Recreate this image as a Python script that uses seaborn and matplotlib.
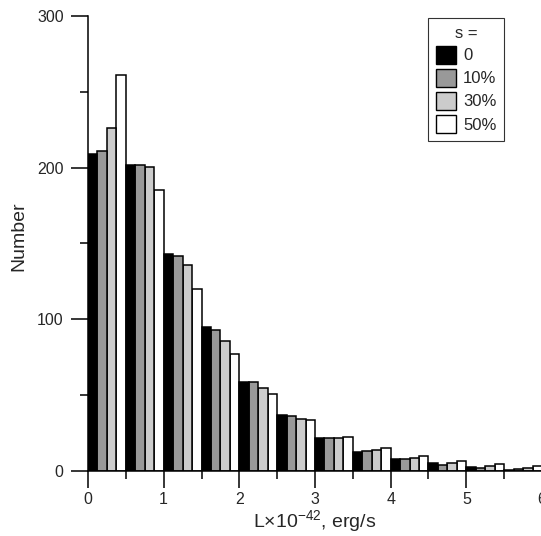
import numpy as np
import pandas as pd
import matplotlib
matplotlib.use("Agg")
import matplotlib.pyplot as plt
import seaborn as sns
from matplotlib.patches import Patch
from matplotlib.ticker import MultipleLocator

# luminosity bins (units of 1e42 erg/s), bin width 0.5
bin_lo = [0.0, 0.5, 1.0, 1.5, 2.0, 2.5, 3.0, 3.5, 4.0, 4.5, 5.0, 5.5]
s_labels = ["0", "10%", "30%", "50%"]

n_s0 = [209, 202, 143, 95, 59, 37, 22, 12.6, 8.1, 5.1, 2.9, 0.9]
n_s10 = [211, 202, 142, 93, 58.5, 36, 22, 13, 7.7, 4.2, 2.2, 1.3]
n_s30 = [226, 200.5, 135.5, 86, 55, 34.5, 22, 14, 8.8, 5.5, 3.3, 2.0]
n_s50 = [261, 185, 120, 77, 50.5, 33.3, 22.4, 15, 10.1, 6.6, 4.9, 3.1]

colors = ["#000000", "#999999", "#cccccc", "#ffffff"]

rows = []
for lab, vals in zip(s_labels, [n_s0, n_s10, n_s30, n_s50]):
    for lo, v in zip(bin_lo, vals):
        rows.append({"L": lo + 0.25, "count": v, "s": lab})
df = pd.DataFrame(rows)

sns.set_style("ticks")
plt.rcParams["font.family"] = ["Liberation Sans", "DejaVu Sans"]
plt.rcParams["mathtext.fontset"] = "custom"
plt.rcParams["mathtext.rm"] = "Liberation Sans"
plt.rcParams["mathtext.default"] = "regular"

fig = plt.figure(figsize=(5.41, 5.36), dpi=100)
ax = fig.add_axes([88 / 541, 65 / 536, 454 / 541, 455 / 536])

sns.histplot(data=df, x="L", weights="count", hue="s", hue_order=s_labels,
             binwidth=0.5, binrange=(0, 6), multiple="dodge", shrink=1,
             palette=colors, alpha=1, edgecolor="black", linewidth=1.1,
             legend=False, ax=ax)

ax.set_xlim(0, 6)
ax.set_ylim(0, 300)
ax.xaxis.set_major_locator(MultipleLocator(1))
ax.xaxis.set_minor_locator(MultipleLocator(0.5))
ax.yaxis.set_major_locator(MultipleLocator(100))
ax.yaxis.set_minor_locator(MultipleLocator(50))
ax.tick_params(which="major", length=12, width=1.1, labelsize=11.5, color="black")
ax.tick_params(which="minor", length=6, width=1.1, color="black")
ax.tick_params(axis="y", which="major", pad=5.5)
ax.tick_params(axis="x", which="major", pad=3)
sns.despine(ax=ax)
for sp in ["left", "bottom"]:
    ax.spines[sp].set_linewidth(1.1)
    ax.spines[sp].set_color("black")

ax.set_xlabel("L×10$^{-42}$, erg/s", fontsize=14, labelpad=1)
ax.set_ylabel("Number", fontsize=14)
ax.yaxis.set_label_coords(-0.134, 0.516)

handles = [Patch(facecolor=c, edgecolor="black", linewidth=1) for c in colors]
leg = ax.legend(handles, s_labels, title="s =", loc="upper right",
                bbox_to_anchor=(504 / 541, 1 - 18 / 536), bbox_transform=fig.transFigure,
                fontsize=12, title_fontsize=12, frameon=True, fancybox=False,
                handlelength=1.2, handleheight=1.3, labelspacing=0.3,
                handletextpad=0.45, borderpad=0.45, borderaxespad=0)
leg.get_frame().set_edgecolor("black")
leg.get_frame().set_linewidth(0.8)

fig.savefig("out.png", dpi=100)
